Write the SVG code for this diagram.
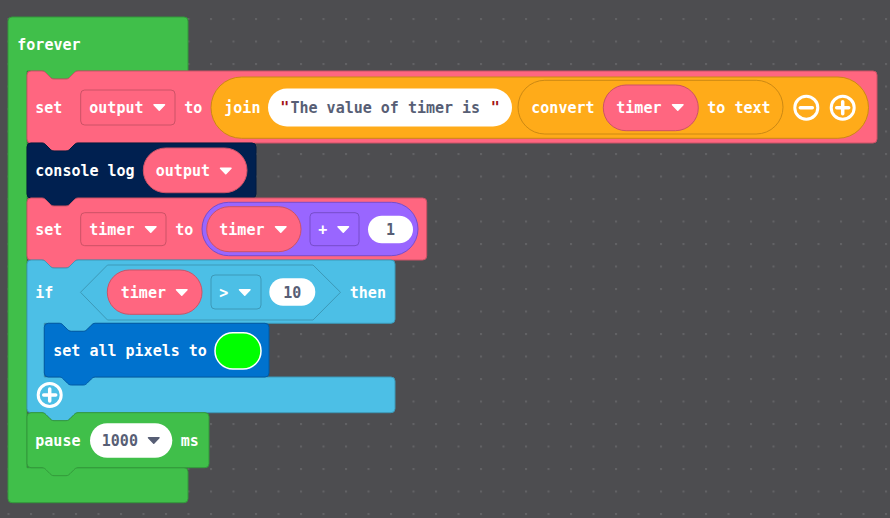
<svg xmlns="http://www.w3.org/2000/svg" width="890" height="518" viewBox="0 0 890 518">
<defs>
<pattern id="grid" x="7.5" y="18" width="22.5" height="22.5" patternUnits="userSpaceOnUse">
<rect x="0" y="0" width="2" height="2" fill="#626265"/>
</pattern>
</defs>
<style>
text{font-family:"DejaVu Sans Mono","Liberation Mono",monospace;font-weight:bold;font-size:15px;fill:#ffffff}
.g{fill:#575e75}
.q{fill:#a31515}
.mid{text-anchor:middle}
.green{fill:#40bf4a;stroke:#33993b;stroke-width:1}
.pink{fill:#ff6680;stroke:#cc5266;stroke-width:1}
.orange{fill:#ffab19;stroke:#cc8914;stroke-width:1}
.navy{fill:#002050;stroke:#001a40;stroke-width:1}
.purple{fill:#9966ff;stroke:#774dcb;stroke-width:1}
.lblue{fill:#4cbfe6;stroke:#3d99b8;stroke-width:1}
.blue{fill:#0072ce;stroke:#005ba5;stroke-width:1}
.white{fill:#ffffff;stroke:none}
.arr{fill:#ffffff;stroke:#ffffff;stroke-width:1.5;stroke-linejoin:round}
.arrg{fill:#575e75;stroke:#575e75;stroke-width:1.5;stroke-linejoin:round}
.btn{fill:none;stroke:#ffffff;stroke-width:3}
.bar{stroke:#ffffff;stroke-width:3.5;stroke-linecap:round}
</style>
<rect x="0" y="0" width="890" height="518" fill="#4d4d50"/>
<rect x="0" y="0" width="890" height="518" fill="url(#grid)"/>

<g id="forever">
<path class="green" d="M8,21 a4,4 0 0 1 4,-4 H184 a4,4 0 0 1 4,4 V71 H78 c-2,0 -3,1 -4,2 l-4,4 c-1,1 -2,2 -4,2 h-12 c-2,0 -3,-1 -4,-2 l-4,-4 c-1,-1 -2,-2 -4,-2 H27 V467.7 H184 a4,4 0 0 1 4,4 V498.7 a4,4 0 0 1 -4,4 H12 a4,4 0 0 1 -4,-4 Z"/>
<text x="17.3" y="49.5">forever</text>
</g>

<g id="set-output">
<path class="pink" d="M27,75 a4,4 0 0 1 4,-4 H42 c2,0 3,1 4,2 l4,4 c1,1 2,2 4,2 h12 c2,0 3,-1 4,-2 l4,-4 c1,-1 2,-2 4,-2 H873 a4,4 0 0 1 4,4 V139 a4,4 0 0 1 -4,4 H78 c-2,0 -3,1 -4,2 l-4,4 c-1,1 -2,2 -4,2 h-12 c-2,0 -3,-1 -4,-2 l-4,-4 c-1,-1 -2,-2 -4,-2 H31 a4,4 0 0 1 -4,-4 Z"/>
<text x="35.3" y="112.5">set</text>
<rect class="pink" x="80.7" y="90" width="94.3" height="35" rx="4"/>
<text x="89.3" y="112.5">output</text>
<polygon class="arr" points="154,104.8 164.5,104.8 159.25,110.2"/>
<text x="184.3" y="112.5">to</text>
<rect class="orange" x="211" y="77" width="657.5" height="61.3" rx="30.6"/>
<text x="224.3" y="112.5">join</text>
<rect class="white" x="268" y="88.5" width="244" height="38" rx="19"/>
<text class="q" x="280.3" y="112.5">"</text>
<text class="g" x="290.5" y="112.5">The value of timer is</text>
<text class="q" x="490.8" y="112.5">"</text>
<rect class="orange" x="518" y="80.3" width="265" height="53.7" rx="26.8"/>
<text x="531.3" y="112.5">convert</text>
<rect class="pink" x="603.3" y="85" width="95" height="45.7" rx="22.8"/>
<text x="616.3" y="112.5">timer</text>
<polygon class="arr" points="672.5,104.8 683,104.8 677.75,110.2"/>
<text x="707.3" y="112.5">to text</text>
<circle class="btn" cx="806.3" cy="107.7" r="11.5"/>
<line class="bar" x1="800.3" y1="107.7" x2="812.3" y2="107.7"/>
<circle class="btn" cx="842.7" cy="107.7" r="11.5"/>
<line class="bar" x1="836.7" y1="107.7" x2="848.7" y2="107.7"/>
<line class="bar" x1="842.7" y1="101.7" x2="842.7" y2="113.7"/>
</g>

<g id="console-log">
<path class="navy" d="M27,147 a4,4 0 0 1 4,-4 H42 c2,0 3,1 4,2 l4,4 c1,1 2,2 4,2 h12 c2,0 3,-1 4,-2 l4,-4 c1,-1 2,-2 4,-2 H252 a4,4 0 0 1 4,4 V194 a4,4 0 0 1 -4,4 H78 c-2,0 -3,1 -4,2 l-4,4 c-1,1 -2,2 -4,2 h-12 c-2,0 -3,-1 -4,-2 l-4,-4 c-1,-1 -2,-2 -4,-2 H31 a4,4 0 0 1 -4,-4 Z"/>
<text x="35.3" y="176">console log</text>
<rect class="pink" x="143.3" y="148" width="103.7" height="44.7" rx="22.3"/>
<text x="155.8" y="176">output</text>
<polygon class="arr" points="220.5,168.3 231,168.3 225.75,173.7"/>
</g>

<g id="set-timer">
<path class="pink" d="M27,202 a4,4 0 0 1 4,-4 H42 c2,0 3,1 4,2 l4,4 c1,1 2,2 4,2 h12 c2,0 3,-1 4,-2 l4,-4 c1,-1 2,-2 4,-2 H422.7 a4,4 0 0 1 4,4 V256 a4,4 0 0 1 -4,4 H78 c-2,0 -3,1 -4,2 l-4,4 c-1,1 -2,2 -4,2 h-12 c-2,0 -3,-1 -4,-2 l-4,-4 c-1,-1 -2,-2 -4,-2 H31 a4,4 0 0 1 -4,-4 Z"/>
<text x="35.3" y="234.5">set</text>
<rect class="pink" x="80.7" y="212.7" width="85.3" height="33" rx="4"/>
<text x="89.3" y="234.5">timer</text>
<polygon class="arr" points="145.5,226.8 156,226.8 150.75,232.2"/>
<text x="175.3" y="234.5">to</text>
<rect class="purple" x="202" y="202.3" width="216" height="53.4" rx="26.7"/>
<rect class="pink" x="206.7" y="206.7" width="94.3" height="45" rx="22.5"/>
<text x="219.3" y="234.5">timer</text>
<polygon class="arr" points="275.5,226.8 286,226.8 280.75,232.2"/>
<rect class="purple" x="310" y="212.7" width="49" height="33" rx="4"/>
<text x="318.3" y="234.5">+</text>
<polygon class="arr" points="338,226.8 348.5,226.8 343.25,232.2"/>
<rect class="white" x="368" y="215.7" width="45" height="27.6" rx="13.8"/>
<text class="g mid" x="390.5" y="234.5">1</text>
</g>

<g id="if-block">
<path class="lblue" d="M27,264 a4,4 0 0 1 4,-4 H42 c2,0 3,1 4,2 l4,4 c1,1 2,2 4,2 h12 c2,0 3,-1 4,-2 l4,-4 c1,-1 2,-2 4,-2 H391 a4,4 0 0 1 4,4 V319.3 a4,4 0 0 1 -4,4 H95.3 c-2,0 -3,1 -4,2 l-4,4 c-1,1 -2,2 -4,2 h-12 c-2,0 -3,-1 -4,-2 l-4,-4 c-1,-1 -2,-2 -4,-2 H44.3 V377 H391 a4,4 0 0 1 4,4 V408.7 a4,4 0 0 1 -4,4 H78 c-2,0 -3,1 -4,2 l-4,4 c-1,1 -2,2 -4,2 h-12 c-2,0 -3,-1 -4,-2 l-4,-4 c-1,-1 -2,-2 -4,-2 H31 a4,4 0 0 1 -4,-4 Z"/>
<text x="35.3" y="297.5">if</text>
<polygon class="lblue" points="80.5,292.3 107.5,265 313,265 340.5,292.3 313,320 107.5,320"/>
<rect class="pink" x="107.3" y="270" width="94.7" height="44.3" rx="22.1"/>
<text x="120.8" y="297.5">timer</text>
<polygon class="arr" points="176.5,289.8 187,289.8 181.75,295.2"/>
<rect class="lblue" x="211" y="275" width="50" height="34" rx="4"/>
<text x="219.3" y="297.5">&gt;</text>
<polygon class="arr" points="239.5,289.8 250,289.8 244.75,295.2"/>
<rect class="white" x="269.3" y="278.3" width="46" height="27.4" rx="13.7"/>
<text class="g mid" x="292.3" y="297.5">10</text>
<text x="349.8" y="297.5">then</text>
<circle class="btn" cx="49.7" cy="395" r="11.5"/>
<line class="bar" x1="43.7" y1="395" x2="55.7" y2="395"/>
<line class="bar" x1="49.7" y1="389" x2="49.7" y2="401"/>
</g>

<g id="set-all-pixels">
<path class="blue" d="M44.3,327.3 a4,4 0 0 1 4,-4 H59.3 c2,0 3,1 4,2 l4,4 c1,1 2,2 4,2 h12 c2,0 3,-1 4,-2 l4,-4 c1,-1 2,-2 4,-2 H265 a4,4 0 0 1 4,4 V373 a4,4 0 0 1 -4,4 H95.3 c-2,0 -3,1 -4,2 l-4,4 c-1,1 -2,2 -4,2 h-12 c-2,0 -3,-1 -4,-2 l-4,-4 c-1,-1 -2,-2 -4,-2 H48.3 a4,4 0 0 1 -4,-4 Z"/>
<text x="53.3" y="355.5">set all pixels to</text>
<rect x="215" y="332.7" width="46" height="36.3" rx="18" fill="#00ff00" stroke="#ffffff" stroke-width="1.5"/>
</g>

<g id="pause">
<path class="green" d="M27,416.7 a4,4 0 0 1 4,-4 H42 c2,0 3,1 4,2 l4,4 c1,1 2,2 4,2 h12 c2,0 3,-1 4,-2 l4,-4 c1,-1 2,-2 4,-2 H205 a4,4 0 0 1 4,4 V463.7 a4,4 0 0 1 -4,4 H78 c-2,0 -3,1 -4,2 l-4,4 c-1,1 -2,2 -4,2 h-12 c-2,0 -3,-1 -4,-2 l-4,-4 c-1,-1 -2,-2 -4,-2 H31 a4,4 0 0 1 -4,-4 Z"/>
<text x="35.3" y="445.5">pause</text>
<rect class="white" x="90" y="423.3" width="82.3" height="34.4" rx="17.2"/>
<text class="g" x="101.8" y="445.5">1000</text>
<polygon class="arrg" points="148.5,437.8 159,437.8 153.75,443.2"/>
<text x="180.8" y="445.5">ms</text>
</g>

<g id="connectors"></g>
</svg>
